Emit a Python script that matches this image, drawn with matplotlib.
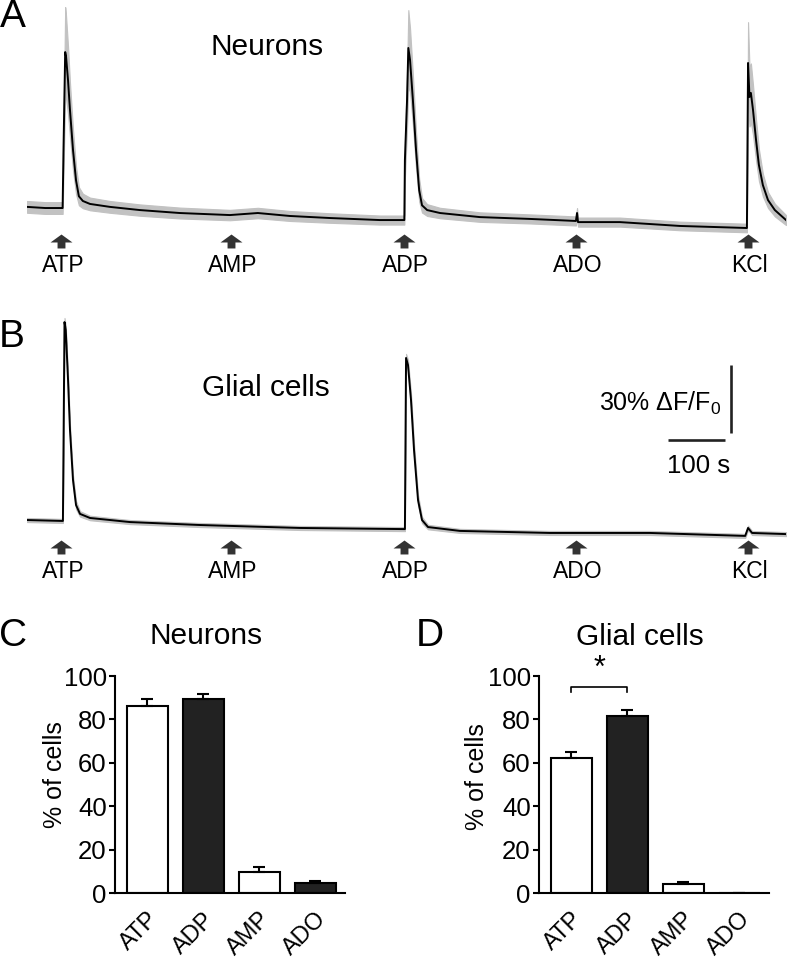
import matplotlib
matplotlib.use("Agg")
import matplotlib.pyplot as plt
from matplotlib.path import Path

plt.rcParams['font.family'] = ['Liberation Sans', 'DejaVu Sans']
plt.rcParams['mathtext.fontset'] = 'custom'
plt.rcParams['mathtext.rm'] = 'Liberation Sans'
plt.rcParams['mathtext.default'] = 'regular'

# ---------------- data ----------------
stimuli = ["ATP", "AMP", "ADP", "ADO", "KCl"]
stim_times = [60, 358, 661, 963, 1265]          # s

# Panel A (neurons) mean trace, % dF/F0 and SEM
tA = [0, 32, 61, 62.5, 64, 67, 68.4, 72, 75.4, 80.7, 86, 91, 98, 110.5, 145.6,
      198, 268, 356, 405, 461, 531, 619, 662, 663, 666.7, 669, 672, 677, 682.5,
      688, 693, 702, 724.6, 794.7, 882, 963, 965, 966.7, 1040, 1145.6, 1263,
      1265, 1267.5, 1270, 1273.7, 1279, 1284, 1291, 1300, 1312, 1331.6]
meanA = [9.3, 8.8, 8.8, 8.8, 34, 77.5, 75.8, 65, 52, 34.4, 21, 14, 11.9, 10.6, 9.3,
         7.9, 6.6, 5.7, 6.6, 5.3, 4.4, 3.5, 3.5, 30, 56, 79.3, 74, 56.4, 34.4,
         16.7, 10, 7.9, 6.6, 4.8, 4.0, 3.1, 6.6, 2.6, 2.6, 0.9, 0,
         72.7, 57.7, 59.5, 52, 38.8, 27.8, 18.9, 12.3, 7.9, 3.5]
semA = [2.6, 2.6, 2.6, 2.6, 10, 19.8, 18, 15, 12, 9, 6, 4, 3.2, 2.8, 2.6,
        2.5, 2.4, 2.3, 2.3, 2.2, 2.1, 2.0, 2.0, 8, 12, 16.7, 14, 11, 8,
        5, 3.2, 2.6, 2.3, 2.1, 2.0, 2.0, 2.2, 2.0, 2.0, 1.9, 1.9,
        18, 13, 13, 11, 9, 7, 5, 3.5, 2.8, 2.2]

# Panel B (glial cells)
tB = [0, 61, 63, 65.8, 68, 72, 75.4, 80.7, 86, 93, 110.5, 180.7, 303.5, 479, 663,
      665, 668.4, 673.7, 679, 686, 693, 703.5, 759.6, 917.5, 1093, 1260, 1265,
      1272, 1331.6]
meanB = [6.6, 6.2, 6.2, 93.8, 90.3, 68.3, 46.3, 24.2, 13.2, 9.3, 7.5, 5.7, 4.4, 3.1, 2.6,
         78, 74.9, 59.5, 37.4, 15.4, 6.6, 3.5, 1.8, 0.9, 0.9, -0.4, 3.1, 0.9, 0.4]
semB = [0.9, 0.9, 0.9, 1.8, 1.8, 2.2, 2.2, 2.2, 1.8, 1.2, 1.0, 0.9, 0.9, 0.9, 0.9,
        1.8, 2.3, 2.8, 2.8, 2.3, 1.4, 1.0, 0.9, 0.9, 0.9, 0.9, 1.0, 0.9, 0.9]

# Bar charts (% of responding cells)
bar_cats = ["ATP", "ADP", "AMP", "ADO"]
neurons_pct = [86.3, 89.4, 9.5, 4.5]
neurons_err = [2.9, 2.3, 2.3, 1.2]
glia_pct = [62.1, 81.6, 4.0, 0.0]
glia_err = [3.0, 2.7, 1.2, 0.0]
bar_colors = ["white", "#222222", "white", "#222222"]

# ---------------- figure ----------------
W, H = 789, 963
fig = plt.figure(figsize=(W / 100, H / 100), dpi=100)


def px_axes(l, t, w, h):
    return fig.add_axes([l / W, 1 - (t + h) / H, w / W, h / H])


def ftext(x, y, s, **kw):
    return fig.text(x / W, 1 - y / H, s, **kw)


arrow_path = Path([(0, 0.636), (1, -0.09), (0.36, -0.09), (0.36, -0.636),
                   (-0.36, -0.636), (-0.36, -0.09), (-1, -0.09), (0, 0.636)],
                  [Path.MOVETO] + [Path.LINETO] * 6 + [Path.CLOSEPOLY])

PX_PER_PCT = 2.27
PX_PER_S = 0.57
T_END = (786 - 27) / PX_PER_S


def trace_panel(top_px, zero_px, t, m, s):
    ax = px_axes(27, top_px, 759, 290)
    ax.set_xlim(0, T_END)
    ax.set_ylim((zero_px - (top_px + 290)) / PX_PER_PCT, (zero_px - top_px) / PX_PER_PCT)
    ax.axis('off')
    lo = [a - b for a, b in zip(m, s)]
    hi = [a + b for a, b in zip(m, s)]
    ax.fill_between(t, lo, hi, color='#c2c2c2', lw=0.8, edgecolor='#c2c2c2')
    ax.plot(t, m, color='black', lw=1.4)
    return ax


def stim_marks(ax, zero_px, arrow_px, label_px):
    ya = (zero_px - arrow_px) / PX_PER_PCT
    yl = (zero_px - label_px) / PX_PER_PCT
    ax.plot(stim_times, [ya] * len(stim_times), ls='none', marker=arrow_path,
            markersize=15.8, color='#333333', mec='none', clip_on=False)
    for tt, lab in zip(stim_times, stimuli):
        ax.text(tt + 3, yl, lab, ha='center', va='center', fontsize=16.5)


# Panel A
axA = trace_panel(0, 228, tA, meanA, semA)
stim_marks(axA, 228, 241, 266)

# Panel B
axB = trace_panel(290, 535, tB, meanB, semB)
stim_marks(axB, 535, 547, 571)

# scale bars in B
vx = (731 - 27) / PX_PER_S
axB.plot([vx, vx], [(535 - 433) / PX_PER_PCT, (535 - 433) / PX_PER_PCT + 30],
         color='#222222', lw=1.9, solid_capstyle='butt')
hx0 = (668 - 27) / PX_PER_S
hy = (535 - 440) / PX_PER_PCT
axB.plot([hx0, hx0 + 100], [hy, hy], color='#222222', lw=1.9, solid_capstyle='butt')
ftext(721, 403, '30% ΔF/F$_0$', ha='right', va='center', fontsize=18)
ftext(699, 466, '100 s', ha='center', va='center', fontsize=18.5)

# panel texts
ftext(13, 17, 'A', ha='center', va='center', fontsize=28)
ftext(12, 337, 'B', ha='center', va='center', fontsize=28)
ftext(13, 636, 'C', ha='center', va='center', fontsize=28)
ftext(430, 636, 'D', ha='center', va='center', fontsize=28)
ftext(267, 47, 'Neurons', ha='center', va='center', fontsize=21.5)
ftext(266, 388, 'Glial cells', ha='center', va='center', fontsize=21.5)
ftext(206, 636, 'Neurons', ha='center', va='center', fontsize=21.5)
ftext(640, 637, 'Glial cells', ha='center', va='center', fontsize=21.5)


def bar_panel(left_px, vals, errs):
    ax = px_axes(left_px, 676, 230, 217)
    x = list(range(len(bar_cats)))
    ax.bar(x, vals, width=0.73, color=bar_colors, edgecolor='black', linewidth=1.5,
           yerr=[[0] * len(errs), errs], capsize=4,
           error_kw=dict(elinewidth=1.5, capthick=1.5, ecolor='black'), zorder=2)
    ax.set_xlim(-0.58, 3.53)
    ax.set_ylim(0, 100)
    ax.set_yticks([0, 20, 40, 60, 80, 100])
    ax.set_xticks(x)
    ax.set_xticklabels(bar_cats, rotation=45, ha='right', va='top',
                       rotation_mode='anchor', fontsize=17)
    ax.tick_params(axis='x', length=0, pad=11)
    ax.tick_params(axis='y', length=4, width=1.5, pad=2, labelsize=18.5)
    for sp in ['top', 'right']:
        ax.spines[sp].set_visible(False)
    for sp in ['left', 'bottom']:
        ax.spines[sp].set_linewidth(1.5)
    return ax


axC = bar_panel(115, neurons_pct, neurons_err)
axD = bar_panel(539, glia_pct, glia_err)
ftext(55, 775, '% of cells', rotation=90, ha='center', va='center', fontsize=18)
ftext(477, 777, '% of cells', rotation=90, ha='center', va='center', fontsize=18)

# significance bracket ATP vs ADP (glia)
axD.plot([0, 0, 1, 1], [92.5, 95, 95, 92.5], color='black', lw=1.2, clip_on=False)
axD.text(0.5, 96.5, '*', ha='center', va='bottom', fontsize=22, clip_on=False)

fig.savefig('out.png', dpi=100)
